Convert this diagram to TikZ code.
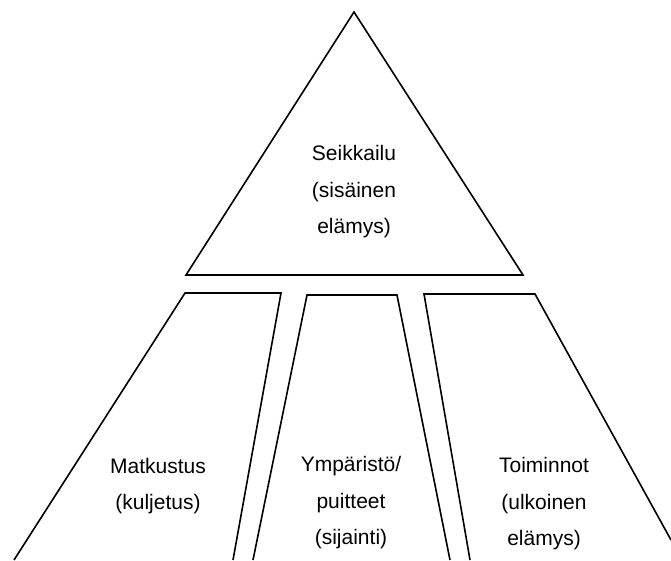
\documentclass[tikz,border=0pt]{standalone}
\usepackage{fontspec}
\setmainfont{Liberation Sans}
\usepackage{tikz}
\tikzset{lbl/.style={align=center,font=\fontsize{21}{36.5}\selectfont}}

\begin{document}
\begin{tikzpicture}[x=1pt,y=1pt,line width=1.6pt]
\useasboundingbox (0,0) rectangle (671,560);
\draw (186,285) -- (354,548) -- (523,285) -- cycle;
\draw (14,0) -- (185,267) -- (281,267) -- (233,0);
\draw (253,0) -- (307,265) -- (397,265) -- (450,0);
\draw (470,0) -- (424,266) -- (535,266) -- (671,20);
\node[lbl] (seikkailu) at (354,368) {Seikkailu\\(sisäinen\\elämys)};
\node[lbl] (matkustus) at (158,74) {Matkustus\\(kuljetus)};
\node[lbl] (ymparisto) at (351,57) {Ympäristö/\\puitteet\\(sijainti)};
\node[lbl] (toiminnot) at (544,56) {Toiminnot\\(ulkoinen\\elämys)};
\end{tikzpicture}
\end{document}
